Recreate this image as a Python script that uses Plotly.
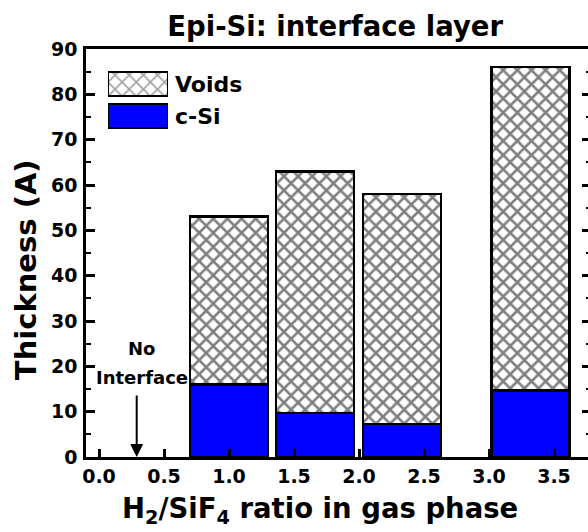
import plotly.graph_objects as go

# Data
ratios = [1.0, 1.66, 2.33, 3.32]
csi = [16.0, 9.7, 7.3, 14.7]
totals = [53.0, 63.0, 58.0, 86.0]
voids = [t - c for t, c in zip(totals, csi)]
legend_labels = ["Voids", "c-Si"]

FONT = "DejaVu Sans"
BLUE = "#0000FF"

fig = go.Figure()

fig.add_trace(go.Bar(
    x=ratios, y=csi, width=0.6, name="c-Si",
    marker=dict(color=BLUE, line=dict(color="black", width=2.5)),
    showlegend=False,
))
fig.add_trace(go.Bar(
    x=ratios, y=voids, width=0.6, name="Voids",
    marker=dict(color="white", line=dict(color="black", width=2.5),
                pattern=dict(shape="x", fgcolor="black", bgcolor="white",
                             size=10, solidity=0.45)),
    showlegend=False,
))

# Legend drawn as a small inset bar chart
fig.add_trace(go.Bar(
    x=[1, 1], y=legend_labels, orientation="h", width=0.75,
    xaxis="x2", yaxis="y2", showlegend=False, hoverinfo="skip",
    marker=dict(color=["white", BLUE], line=dict(color="black", width=2),
                pattern=dict(shape=["x", ""], fgcolor="#333333", bgcolor="white",
                             size=10, solidity=0.3)),
))

tickfont = dict(size=19, family=FONT, color="black", weight="bold")

fig.update_layout(
    width=588, height=532,
    margin=dict(l=86, r=0, t=49, b=75),
    barmode="stack",
    plot_bgcolor="white", paper_bgcolor="white",
    font=dict(family=FONT, color="black"),
    title=dict(text="<b>Epi-Si: interface layer</b>", x=0.57, xanchor="center",
               y=0.951, yanchor="middle", yref="container",
               font=dict(size=27.5, family=FONT, color="black")),
    xaxis=dict(
        range=[-0.1, 3.7615], tickmode="linear", tick0=0, dtick=0.5,
        tickformat=".1f", ticks="inside", ticklen=8, tickwidth=2.5,
        tickcolor="black", showline=True, linewidth=2.5, linecolor="black",
        mirror=True, showgrid=False, zeroline=False,
        tickfont=tickfont,
    ),
    yaxis=dict(
        range=[0, 90], tickmode="linear", tick0=0, dtick=10,
        ticks="inside", ticklen=9, tickwidth=2.5, tickcolor="black",
        minor=dict(dtick=5, ticks="inside", ticklen=5, tickwidth=2, tickcolor="black"),
        showline=True, linewidth=2.5, linecolor="black", mirror=False,
        showgrid=False, zeroline=False, ticklabelstandoff=2,
        tickfont=tickfont,
    ),
    yaxis3=dict(
        range=[0, 90], overlaying="y", side="right", anchor="x",
        tickmode="linear", tick0=0, dtick=10,
        ticks="inside", ticklen=6, tickwidth=2.5, tickcolor="black",
        minor=dict(dtick=5, ticks="inside", ticklen=2, tickwidth=2, tickcolor="black"),
        showticklabels=False, showline=False, showgrid=False, zeroline=False,
    ),
    xaxis2=dict(domain=[0.0438, 0.1633], range=[0, 1], anchor="y2",
                visible=False, fixedrange=True),
    yaxis2=dict(domain=[0.7966, 0.9534], anchor="x2", side="right",
                autorange="reversed", type="category",
                showline=False, showgrid=False, zeroline=False, ticks="",
                ticklabelstandoff=6,
                tickfont=dict(size=22, family=FONT, color="black", weight="bold")),
)

# dummy trace to anchor the right-side tick axis
fig.add_trace(go.Scatter(x=[None], y=[None], yaxis="y3", showlegend=False,
                         hoverinfo="skip"))

# Axis titles (placed as annotations to match the reference offset)
fig.add_annotation(xref="paper", yref="paper", x=0.466, y=-0.13,
                   xanchor="center", yanchor="middle", showarrow=False,
                   text="<b>H<sub>2</sub>/SiF<sub>4</sub> ratio in gas phase</b>",
                   font=dict(size=27.5, family=FONT, color="black"))
fig.add_annotation(xref="paper", yref="paper", x=-0.1195, y=0.458,
                   xanchor="center", yanchor="middle", showarrow=False,
                   textangle=-90, text="<b>Thickness (A)</b>",
                   font=dict(size=29, family=FONT, color="black"))

# "No Interface" label with arrow
fig.add_annotation(x=0.33, y=24.0, text="<b>No</b>", showarrow=False,
                   font=dict(size=18, family=FONT, color="black"))
fig.add_annotation(x=0.33, y=17.6, text="<b>Interface</b>", showarrow=False,
                   font=dict(size=18, family=FONT, color="black"))
fig.add_annotation(x=0.29, y=0.0, ax=0.29, ay=13.9, axref="x", ayref="y",
                   text="", showarrow=True, arrowhead=2, arrowsize=1.3,
                   arrowwidth=2, arrowcolor="black", standoff=0)

fig.write_html("out.html")
